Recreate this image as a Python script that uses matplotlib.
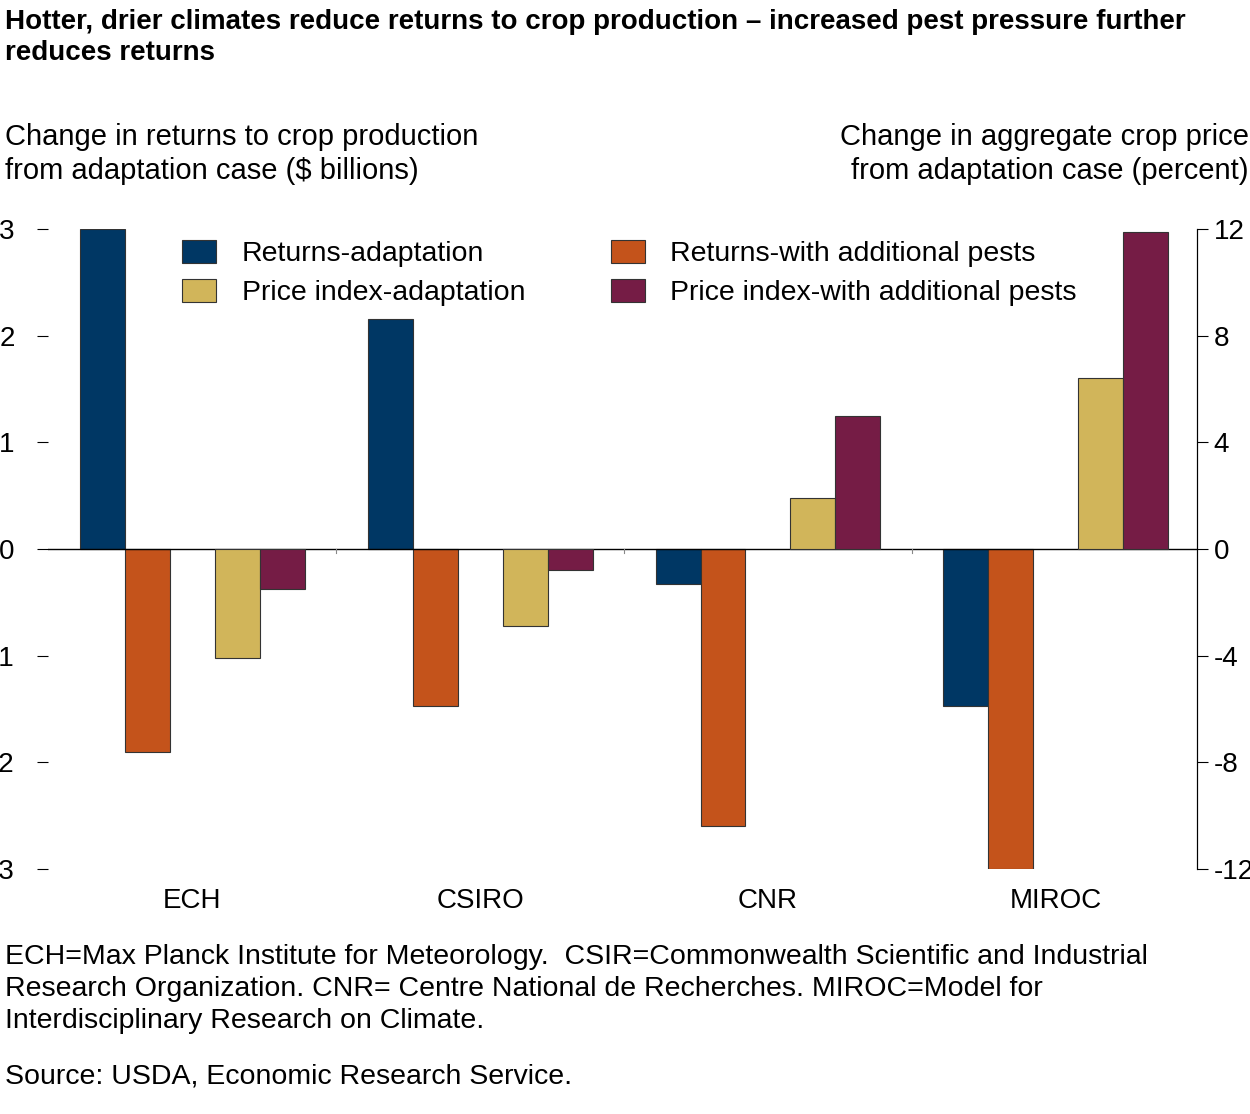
import matplotlib
matplotlib.use("Agg")
import matplotlib.pyplot as plt
import numpy as np

plt.rcParams['font.family'] = ['Liberation Sans', 'DejaVu Sans']
plt.rcParams['axes.unicode_minus'] = False

models = ["ECH", "CSIRO", "CNR", "MIROC"]
returns_adapt = [3.0, 2.16, -0.33, -1.47]
returns_pests = [-1.9, -1.47, -2.6, -3.0]
price_adapt = [-4.1, -2.9, 1.9, 6.4]
price_pests = [-1.5, -0.8, 5.0, 11.9]
left_ticks = [-3, -2, -1, 0, 1, 2, 3]
right_ticks = [-12, -8, -4, 0, 4, 8, 12]

c_blue, c_orange, c_yellow, c_purple = "#003764", "#C4531B", "#D1B55A", "#751C45"

fig = plt.figure(figsize=(12.5, 11.14), dpi=100)
ax = fig.add_axes([0.0384, 0.2199, 0.9192, 0.5745])
ax2 = ax.twinx()

g = np.arange(4) * 6.4
kw = dict(width=1, align='edge', edgecolor='#333333', linewidth=0.8)
b1 = ax.bar(g, returns_adapt, color=c_blue, **kw)
b2 = ax.bar(g + 1, returns_pests, color=c_orange, **kw)
b3 = ax2.bar(g + 3, price_adapt, color=c_yellow, **kw)
b4 = ax2.bar(g + 4, price_pests, color=c_purple, **kw)

ax.set_xlim(-0.71, 24.84)
ax.set_ylim(-3, 3)
ax2.set_ylim(-12, 12)
ax.axhline(0, color='black', lw=1)
for xx in g[1:] - 0.7:
    ax.plot([xx, xx], [0, -0.04], color='#888888', lw=0.8)

ax.set_yticks(left_ticks)
ax2.set_yticks(right_ticks)
ax.set_xticks(g + 2.5)
ax.set_xticklabels(models)
ax.tick_params(axis='x', length=0, labelsize=20, pad=14)
ax.tick_params(axis='y', labelsize=20, length=8, direction='out', pad=16)
ax2.tick_params(axis='y', labelsize=20, length=8, direction='out', pad=4)
for a in (ax, ax2):
    a.spines['top'].set_visible(False)
    a.spines['bottom'].set_visible(False)
    a.spines['left'].set_visible(False)
ax.patch.set_visible(False)

fig.legend([b1, b3, b2, b4],
           ["Returns-adaptation", "Price index-adaptation",
            "Returns-with additional pests", "Price index-with additional pests"],
           ncol=2, loc='upper left', bbox_to_anchor=(0.125, 0.808),
           frameon=False, fontsize=20.5, handlelength=1.2, handleheight=0.9,
           columnspacing=3.0, labelspacing=0.4, handletextpad=0.9)

fig.text(0.004, 0.992, "Hotter, drier climates reduce returns to crop production \u2013 increased pest pressure further\nreduces returns",
         fontsize=20, fontweight='bold', va='top', ha='left', linespacing=1.25)
fig.text(0.004, 0.89, "Change in returns to crop production\nfrom adaptation case ($ billions)",
         fontsize=21, va='top', ha='left', linespacing=1.3)
fig.text(0.999, 0.89, "Change in aggregate crop price\nfrom adaptation case (percent)",
         fontsize=21, va='top', ha='right', multialignment='right', linespacing=1.3)
fig.text(0.004, 0.153, "ECH=Max Planck Institute for Meteorology.  CSIR=Commonwealth Scientific and Industrial\nResearch Organization. CNR= Centre National de Recherches. MIROC=Model for\nInterdisciplinary Research on Climate.",
         fontsize=20.5, va='top', ha='left', linespacing=1.3)
fig.text(0.004, 0.045, "Source: USDA, Economic Research Service.", fontsize=20.5, va='top', ha='left')

fig.savefig("out.png", dpi=100)
